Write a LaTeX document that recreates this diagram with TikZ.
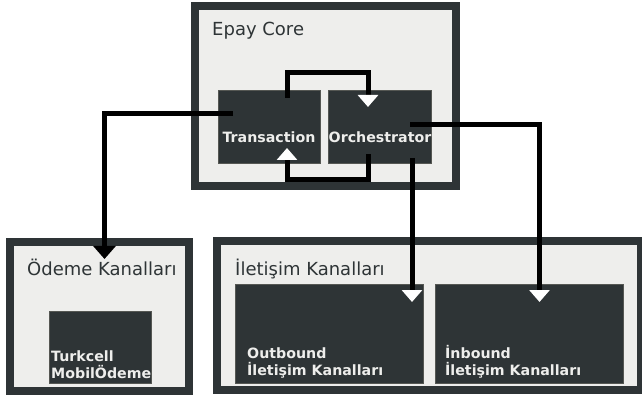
\documentclass[tikz,border=0pt]{standalone}
\usepackage{fontspec}
\setmainfont{DejaVu Sans}
\usetikzlibrary{arrows.meta,calc}
\definecolor{tdark}{HTML}{2E3436}
\definecolor{tlight}{HTML}{EEEEEC}
\definecolor{tedge}{HTML}{555753}

\begin{document}
\begin{tikzpicture}[
		x=1pt, y=1pt,
		group/.style={draw=tdark, fill=tlight, line width=8pt, inner sep=0pt, outer sep=0pt},
		comp/.style={draw=tedge, fill=tdark, line width=0.8pt, inner sep=0pt, outer sep=0pt},
		grouptitle/.style={text=tdark, font=\fontsize{18}{22}\selectfont, inner sep=0pt},
		boxtext/.style={text=tlight, font=\bfseries\fontsize{14.2}{17}\selectfont, inner sep=0pt, align=left},
		link/.style={line width=5pt, black},
		whitetip/.style={-{Triangle[width=20pt,length=12pt,color=white]}},
		blacktip/.style={-{Triangle[width=22pt,length=13pt]}}
	]
		\useasboundingbox (0,0) rectangle (642,-395);

		% Epay Core
		\node[group, minimum width=261, minimum height=180] (core) at (325.5,-96) {};
		\node[grouptitle, anchor=base west] (coret) at (212,-36) {Epay Core};
		\node[comp, minimum width=102, minimum height=73] (tr) at (269,-126.5) {};
		\node[comp, minimum width=103, minimum height=73] (orch) at (379.5,-126.5) {};
		\node[boxtext, anchor=base] (trt) at (269,-143) {Transaction};
		\node[boxtext, anchor=base] (orcht) at (380,-143) {Orchestrator};

		% Ödeme Kanalları
		\node[group, minimum width=179, minimum height=149] (odeme) at (99.5,-316.5) {};
		\node[grouptitle, anchor=base west] (odemet) at (27,-276) {Ödeme Kanalları};
		\node[comp, minimum width=102, minimum height=72] (tc) at (100,-347) {};
		\node[boxtext, anchor=base west] (tct) at (51,-378) {Turkcell\\MobilÖdeme};

		% İletişim Kanalları
		\node[group, minimum width=424, minimum height=149] (ilet) at (429,-315.5) {};
		\node[grouptitle, anchor=base west] (iletst) at (235,-276) {İletişim Kanalları};
		\node[comp, minimum width=188, minimum height=99] (outb) at (329,-333.5) {};
		\node[comp, minimum width=188, minimum height=99] (inb) at (529,-333.5) {};
		\node[boxtext, anchor=base west] (outbt) at (247,-375) {Outbound\\İletişim Kanalları};
		\node[boxtext, anchor=base west] (inbt) at (445,-375) {İnbound\\İletişim Kanalları};

		\draw[link, whitetip] ([xshift=18pt,yshift=-8pt]tr.north) -- ++(0,25) -| ([xshift=-11.5pt,yshift=-17pt]orch.north);
		\draw[link, whitetip] ([xshift=-11.5pt,yshift=9pt]orch.south) -- ++(0,-26) -| ([xshift=18pt,yshift=15pt]tr.south);
		\draw[link, blacktip] ([xshift=15pt,yshift=12.5pt]tr.west) -| ([xshift=5pt,yshift=-17pt]odeme.north);
		\draw[link, whitetip] ([xshift=32.5pt,yshift=5pt]orch.south) -- ([xshift=83pt,yshift=-18pt]outb.north);
		\draw[link, whitetip] ([xshift=-21pt,yshift=1.5pt]orch.east) -| ([xshift=10.5pt,yshift=-18pt]inb.north);
	\end{tikzpicture}
\end{document}
